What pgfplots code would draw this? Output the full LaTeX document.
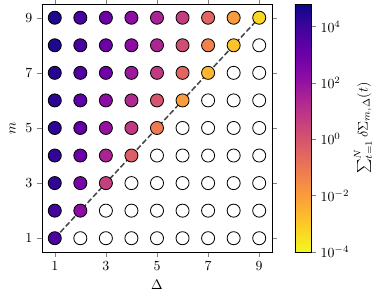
\documentclass[border=0pt]{standalone}
\usepackage{pgfplots}
\pgfplotsset{compat=1.18}
\pgfplotsset{colormap={plasmar}{rgb255=(240,249,33) rgb255=(252,206,37) rgb255=(252,166,54) rgb255=(242,132,75) rgb255=(225,100,98) rgb255=(204,71,120) rgb255=(177,42,144) rgb255=(143,13,164) rgb255=(106,0,168) rgb255=(65,4,157) rgb255=(13,8,135)}}
\begin{document}
\begin{tikzpicture}
\begin{axis}[
  at={(0,0)}, anchor=south west,
  scale only axis, width=165.6pt, height=178.6pt,
  xmin=0.5, xmax=9.5, ymin=0.5, ymax=9.5,
  xtick={1,3,5,7,9}, ytick={1,3,5,7,9},
  tick align=outside, major tick length=3.5pt,
  xlabel={$\Delta$}, ylabel={$m$},
  colormap name=plasmar,
  point meta min=-4, point meta max=4.8,
  colorbar,
  colorbar style={at={(parent axis.north east)}, anchor=north west, xshift=7.9pt, width=11.5pt,
    ytick={-4,-2,0,2,4}, yticklabels={$10^{-4}$,$10^{-2}$,$10^{0}$,$10^{2}$,$10^{4}$},
    tick align=outside, ytick pos=right, yticklabel pos=right, major tick length=3.5pt,
    ylabel={$\sum_{t=1}^{N}\delta\Sigma_{m,\Delta}(t)$}, ylabel style={yshift=3.5pt}},
  clip=false,
]
\addplot[only marks, mark=*, mark size=4.7pt, mark options={draw=black, fill=white, line width=0.6pt}] table {
x y
2 1
3 1
4 1
5 1
6 1
7 1
8 1
9 1
3 2
4 2
5 2
6 2
7 2
8 2
9 2
4 3
5 3
6 3
7 3
8 3
9 3
5 4
6 4
7 4
8 4
9 4
6 5
7 5
8 5
9 5
7 6
8 6
9 6
8 7
9 7
9 8
};
\addplot[scatter, only marks, mark=*, mark size=4.7pt, scatter src=explicit,
  scatter/use mapped color={draw=black, fill=mapped color}, mark options={line width=0.6pt}] table[meta=c] {
x y c
1 9 4.5
2 9 3.7
3 9 3.0
4 9 2.2
5 9 1.5
6 9 0.7
7 9 -0.5
8 9 -2.0
9 9 -3.3
1 8 4.5
2 8 3.7
3 8 3.0
4 8 2.2
5 8 1.4
6 8 0.2
7 8 -1.3
8 8 -2.9
1 7 4.4
2 7 3.6
3 7 2.9
4 7 1.8
5 7 0.8
6 7 -0.5
7 7 -2.6
1 6 4.3
2 6 3.3
3 6 2.2
4 6 1.3
5 6 0.0
6 6 -2.0
1 5 4.3
2 5 3.2
3 5 2.0
4 5 0.8
5 5 -1.1
1 4 4.2
2 4 3.0
3 4 1.5
4 4 -0.3
1 3 4.2
2 3 2.7
3 3 0.6
1 2 3.9
2 2 2.2
1 1 3.7
};
\addplot[color={rgb,255:red,70;green,70;blue,70}, line width=1.1pt, dash pattern=on 4pt off 1.8pt] coordinates {(1,1) (9,9)};
\end{axis}
\pgfresetboundingbox
\path[use as bounding box] (-30.24pt,-34.56pt) rectangle (246.24pt,181.44pt);
\end{tikzpicture}
\end{document}
